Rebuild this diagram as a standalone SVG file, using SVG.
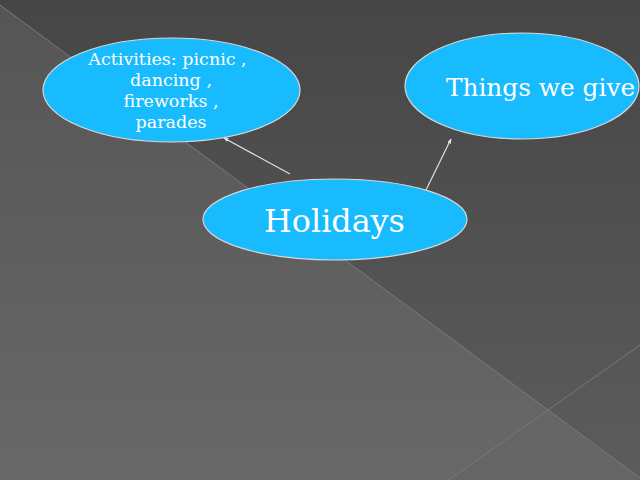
<svg xmlns="http://www.w3.org/2000/svg" width="640" height="480" viewBox="0 0 640 480">
<defs>
<linearGradient id="bg" x1="0" y1="0" x2="0" y2="1">
<stop offset="0" stop-color="#464646"/>
<stop offset="1" stop-color="#5c5c5c"/>
</linearGradient>
<linearGradient id="bg2" x1="0" y1="0" x2="0" y2="1">
<stop offset="0" stop-color="#555555"/>
<stop offset="1" stop-color="#686868"/>
</linearGradient>
<marker id="ah" viewBox="0 0 10 10" refX="9" refY="5" markerWidth="5" markerHeight="5" orient="auto" markerUnits="userSpaceOnUse">
<path d="M0,1 L10,5 L0,9 Z" fill="#e6e6e6"/>
</marker>
<style>
.node{fill:#18bbfd;stroke:#d8d8d8;stroke-width:1.2}
.t{font-family:"DejaVu Serif",serif;fill:#ffffff;text-anchor:middle}
.edge{stroke:#e0e0e0;stroke-width:1.2;fill:none;marker-end:url(#ah)}
.seam{stroke:#7a7a7a;stroke-width:1;fill:none}
</style>
</defs>
<g id="background">
<rect width="640" height="480" fill="url(#bg)"/>
<polygon points="0,5 548,410 449,480 0,480" fill="url(#bg2)"/>
<polygon points="548,410 640,478 640,480 449,480" fill="#656565"/>
<polyline class="seam" points="0,5 548,410 640,478"/>
<polyline class="seam" points="640,345 548,410 449,480"/>
</g>
<g id="connectors">
<line class="edge" x1="290" y1="174" x2="224" y2="138"/>
<line class="edge" x1="426" y1="190" x2="451" y2="139"/>
</g>
<g id="activities">
<ellipse class="node" cx="171.5" cy="90" rx="128.5" ry="52"/>
<text class="t" font-size="17.5"><tspan x="167.5" y="65">Activities: picnic ,</tspan><tspan x="171" y="86">dancing ,</tspan><tspan x="171" y="107">fireworks ,</tspan><tspan x="171" y="128">parades</tspan></text>
</g>
<g id="things">
<ellipse class="node" cx="522" cy="86" rx="117" ry="53"/>
<text class="t" font-size="24.8" x="540.5" y="96">Things we give</text>
</g>
<g id="holidays">
<ellipse class="node" cx="335" cy="219.5" rx="132" ry="40.5"/>
<text class="t" font-size="31.8" x="334.5" y="232">Holidays</text>
</g>
</svg>
